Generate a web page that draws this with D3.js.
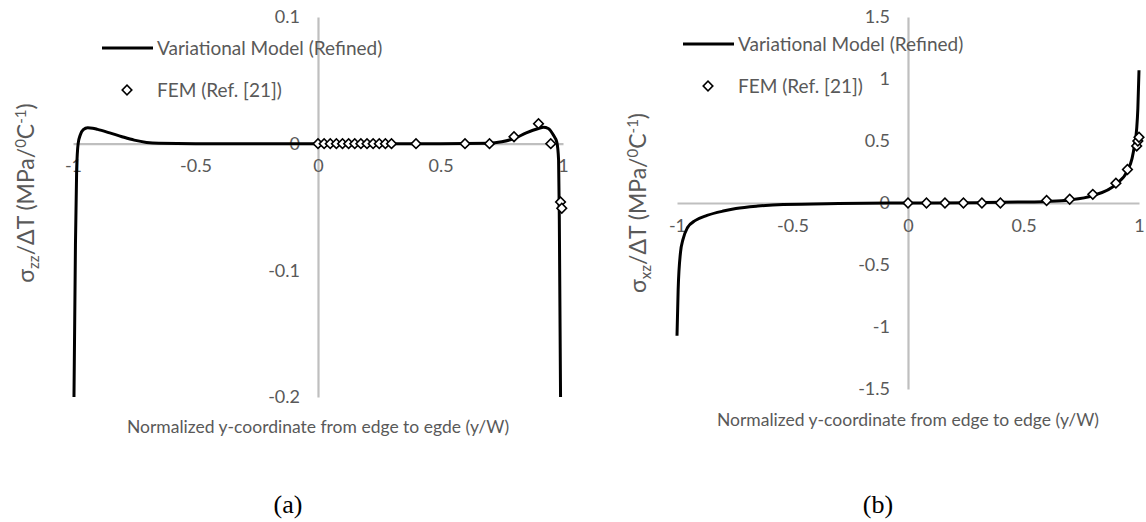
<!DOCTYPE html>
<html>
<head>
<meta charset="utf-8">
<script src="https://cdn.jsdelivr.net/npm/d3@7"></script>
<style>
  body { margin: 0; background: #fff; }
  svg { display: block; }
  .tick text, .lbl { font-family: Lato, "Open Sans", sans-serif; fill: #595959; }
</style>
</head>
<body>
<svg id="fig" width="1146" height="522"></svg>
<script>
// ---- panel (a): sigma_zz ----
const lineA = [
  [-0.996, -0.2], [-0.99, -0.08], [-0.985, -0.02], [-0.979, 0], [-0.97, 0.007],
  [-0.958, 0.011], [-0.94, 0.0125], [-0.92, 0.0122], [-0.9, 0.0113], [-0.85, 0.0085],
  [-0.8, 0.0055], [-0.75, 0.0028], [-0.7, 0.001], [-0.65, 0.0003], [-0.5, 0], [0, 0],
  [0.5, 0], [0.7, 0.0003], [0.75, 0.0015], [0.8, 0.004], [0.85, 0.0085], [0.9, 0.012],
  [0.92, 0.013], [0.94, 0.012], [0.96, 0.007], [0.975, 0.001], [0.982, -0.013],
  [0.985, -0.06], [0.99, -0.2]
];
const femAx = [0, 0.025, 0.05, 0.075, 0.1, 0.125, 0.15, 0.175, 0.2, 0.225, 0.25, 0.275, 0.3,
  0.4, 0.6, 0.7, 0.8, 0.9, 0.95, 0.99, 0.995];
const femAy = [0, 0, 0, 0, 0, 0, 0, 0, 0, 0, 0, 0, 0,
  0, 0, 0, 0.0055, 0.0158, 0, -0.046, -0.051];
const yTicksA = [0.1, 0, -0.1, -0.2];

// ---- panel (b): sigma_xz ----
const lineB = [
  [-1.0, -1.07], [-0.995, -0.7], [-0.985, -0.4], [-0.975, -0.3], [-0.955, -0.2],
  [-0.92, -0.14], [-0.87, -0.1], [-0.8, -0.065], [-0.745, -0.045], [-0.65, -0.025],
  [-0.54, -0.012], [-0.3, -0.004], [0, 0], [0.3, 0.003], [0.5, 0.008], [0.6, 0.013],
  [0.7, 0.025], [0.8, 0.06], [0.9, 0.15], [0.95, 0.26], [0.97, 0.36], [0.98, 0.46],
  [0.99, 0.6], [0.995, 0.76], [1.0, 1.07]
];
const femBx = [0, 0.08, 0.16, 0.24, 0.32, 0.4, 0.6, 0.7, 0.8, 0.9, 0.95, 0.99, 0.995, 1.0];
const femBy = [0, 0, 0, 0, 0, 0, 0.02, 0.03, 0.07, 0.16, 0.27, 0.46, 0.5, 0.53];
const yTicksB = [1.5, 1, 0.5, 0, -0.5, -1, -1.5];

const xTicks = [-1, -0.5, 0, 0.5, 1];
const seriesNames = ["Variational Model (Refined)", "FEM (Ref. [21])"];

const svg = d3.select("#fig");

const panels = [
  {
    line: lineA, fx: femAx, fy: femAy, yTicks: yTicksA,
    x: d3.scaleLinear().domain([-1, 1]).range([73, 563]),
    y: d3.scaleLinear().domain([-0.2, 0.1]).range([397, 17]),
    sub: "zz", xTitle: "Normalized y-coordinate from edge to egde (y/W)",
    yLabelPos: [26, 193], legend: [102, 48], tag: "(a)", xTitleY: 433
  },
  {
    line: lineB, fx: femBx, fy: femBy, yTicks: yTicksB,
    x: d3.scaleLinear().domain([-1, 1]).range([677, 1139]),
    y: d3.scaleLinear().domain([-1.5, 1.5]).range([389, 17]),
    sub: "xz", xTitle: "Normalized y-coordinate from edge to edge (y/W)",
    yLabelPos: [638, 203], legend: [683, 44], tag: "(b)", xTitleY: 426
  }
];

const fmt = d => String(d);

panels.forEach(p => {
  const g = svg.append("g");
  const {x, y} = p;

  // axis lines through the origin
  const yAxis = d3.axisLeft(y).tickValues(p.yTicks).tickSize(0).tickPadding(18).tickFormat(fmt);
  const xAxis = d3.axisBottom(x).tickValues(xTicks).tickSize(0).tickPadding(16).tickFormat(fmt);

  const gy = g.append("g").attr("transform", `translate(${x(0)},0)`).call(yAxis);
  const gx = g.append("g").attr("transform", `translate(0,${y(0)})`).call(xAxis);
  [gy, gx].forEach(a => {
    a.select(".domain").attr("stroke", "#bfbfbf").attr("stroke-width", 2.2);
    a.selectAll(".tick text").attr("font-size", 18).attr("fill", "#595959");
  });

  // model line
  g.append("path")
      .datum(p.line)
      .attr("fill", "none")
      .attr("stroke", "#000")
      .attr("stroke-width", 3)
      .attr("stroke-linejoin", "round")
      .attr("d", d3.line().x(d => x(d[0])).y(d => y(d[1])).curve(d3.curveMonotoneX));

  // FEM markers
  const sym = d3.symbol().type(d3.symbolSquare).size(46);
  g.append("g").selectAll("path")
    .data(p.fx.map((v, i) => [v, p.fy[i]]))
    .join("path")
      .attr("d", sym)
      .attr("transform", d => `translate(${x(d[0])},${y(d[1])}) rotate(45)`)
      .attr("fill", "#fff")
      .attr("stroke", "#000")
      .attr("stroke-width", 1.6);

  // legend
  const [lx, ly] = p.legend;
  g.append("line")
      .attr("x1", lx).attr("x2", lx + 51).attr("y1", ly).attr("y2", ly)
      .attr("stroke", "#000").attr("stroke-width", 3);
  g.append("text").attr("class", "lbl")
      .attr("x", lx + 55).attr("y", ly).attr("dy", "0.35em")
      .attr("font-size", 19).text(seriesNames[0]);
  g.append("path")
      .attr("d", sym)
      .attr("transform", `translate(${lx + 25},${ly + 42}) rotate(45)`)
      .attr("fill", "#fff").attr("stroke", "#000").attr("stroke-width", 1.6);
  g.append("text").attr("class", "lbl")
      .attr("x", lx + 55).attr("y", ly + 42).attr("dy", "0.35em")
      .attr("font-size", 19).text(seriesNames[1]);

  // y label with sub/superscripts
  const [yx, yy] = p.yLabelPos;
  const yl = g.append("text").attr("class", "lbl")
      .attr("transform", `translate(${yx},${yy}) rotate(-90)`)
      .attr("text-anchor", "middle")
      .attr("dy", "0.35em")
      .attr("font-size", 23);
  yl.append("tspan").text("σ");
  yl.append("tspan").attr("font-size", 15).attr("dy", 5).text(p.sub);
  yl.append("tspan").attr("dy", -5).text("/ΔT (MPa/");
  yl.append("tspan").attr("font-size", 15).attr("dy", -8).text("0");
  yl.append("tspan").attr("dy", 8).text("C");
  yl.append("tspan").attr("font-size", 15).attr("dy", -8).text("-1");
  yl.append("tspan").attr("dy", 8).text(")");

  // x title
  g.append("text").attr("class", "lbl")
      .attr("x", x(0)).attr("y", p.xTitleY)
      .attr("text-anchor", "middle")
      .attr("font-size", 17.5)
      .text(p.xTitle);

  // panel tag
  g.append("text")
      .attr("x", x(0) - 30).attr("y", 513)
      .attr("text-anchor", "middle")
      .attr("font-family", "'Liberation Serif', 'Times New Roman', serif")
      .attr("font-size", 26)
      .attr("fill", "#000")
      .text(p.tag);
});
</script>
</body>
</html>
